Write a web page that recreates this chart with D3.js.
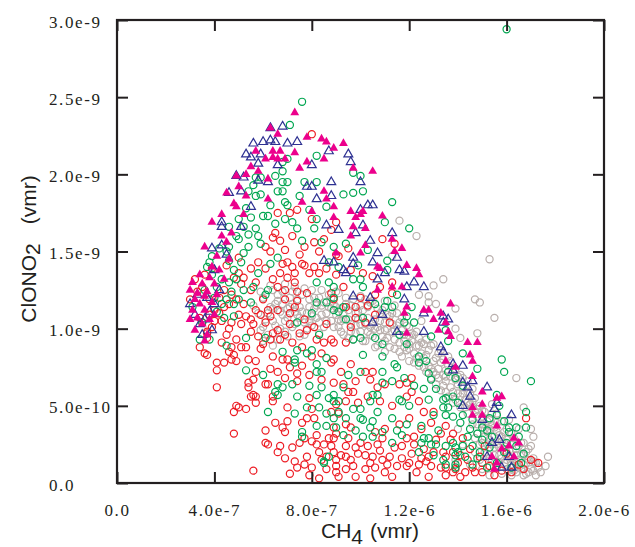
<!DOCTYPE html>
<html>
<head>
<meta charset="utf-8">
<script src="https://cdn.jsdelivr.net/npm/d3@7"></script>
<style>
  body { margin: 0; background: #fff; }
</style>
</head>
<body>
<div id="chart"></div>
<script>
// CH4 is kept in units of 1e-7 vmr, ClONO2 in units of 1e-10 vmr
var xTickValues = [0, 4, 8, 12, 16, 20];
var xTickLabels = ['0.0', '4.0e-7', '8.0e-7', '1.2e-6', '1.6e-6', '2.0e-6'];
var yTickValues = [0, 5, 10, 15, 20, 25, 30];
var yTickLabels = ['0.0', '5.0e-10', '1.0e-9', '1.5e-9', '2.0e-9', '2.5e-9', '3.0e-9'];

// grey open circles
var greyPts = [
  [5.8,11.0],[6.0,12.0],[6.1,10.6],[6.3,11.4],[6.4,12.5],[6.5,10.2],[6.6,11.8],[6.7,11.1],[6.8,12.4],[6.9,10.5],
  [7.0,11.3],[7.1,12.0],[7.2,10.1],[7.2,11.6],[7.3,12.7],[7.4,10.9],[7.5,11.4],[7.6,12.2],[7.7,10.4],[7.8,11.0],
  [7.9,11.9],[8.0,10.2],[8.0,12.5],[8.1,11.3],[8.2,10.7],[8.3,12.0],[8.4,11.5],[8.5,10.1],[8.6,11.0],[8.7,12.2],
  [8.8,10.5],[8.9,11.6],[9.0,10.9],[9.0,12.4],[6.2,9.6],[6.9,9.8],[7.5,9.5],[5.9,9.9],[6.6,9.3],
  [5.6,11.5],[5.9,12.4],[6.0,10.1],[6.2,11.0],[6.3,12.8],[6.4,10.5],[6.5,11.6],[6.6,12.2],[6.7,10.0],[6.8,11.6],
  [6.9,12.9],[7.0,10.7],[7.1,11.4],[7.2,12.4],[7.3,10.3],[7.4,11.9],[7.5,10.7],[7.6,11.1],[7.7,12.6],[7.8,10.0],
  [7.9,11.4],[8.0,10.8],[8.1,12.0],[8.2,11.5],[8.3,10.4],[8.4,12.5],[8.5,11.7],[8.6,10.5],[8.7,11.4],[8.8,12.0],
  [8.9,10.1],[9.0,11.4],[9.1,12.3],[9.2,10.5],[6.0,9.2],[6.4,8.9],[7.0,9.5],[7.7,9.6],[8.3,9.7],
  [9.1,10.1],[9.2,11.3],[9.3,9.6],[9.4,12.0],[9.5,10.6],[9.6,11.5],[9.7,9.3],[9.8,10.2],[9.9,11.1],[10.0,9.8],
  [10.0,12.1],[10.1,10.7],[10.2,9.2],[10.3,11.4],[10.4,10.1],[10.5,9.5],[10.5,11.8],[10.6,10.6],[10.7,8.9],[10.8,9.9],
  [10.9,11.2],[11.0,10.4],[11.0,8.5],[11.1,9.4],[11.2,10.8],[11.3,9.8],[11.4,8.7],[11.4,11.5],[11.5,10.2],[11.6,9.1],
  [11.7,8.2],[11.7,10.7],[11.8,9.6],[11.9,8.6],[12.0,10.1],[12.0,7.9],[12.1,9.2],[12.2,8.4],[12.3,9.8],[12.4,7.6],
  [12.4,8.9],[12.5,10.5],
  [9.2,9.8],[9.3,10.6],[9.4,11.6],[9.5,9.4],[9.6,10.3],[9.7,11.9],[9.8,9.7],[9.9,10.6],[10.0,11.5],[10.1,9.2],
  [10.2,10.3],[10.3,9.8],[10.4,11.7],[10.5,10.3],[10.6,8.8],[10.7,10.1],[10.8,11.0],[10.9,9.5],[11.0,9.9],[11.1,10.9],
  [11.2,8.8],[11.3,10.3],[11.4,9.3],[11.5,11.0],[11.6,8.5],[11.7,9.9],[11.8,8.8],[11.9,10.2],[12.0,8.7],[12.1,9.7],
  [12.2,7.8],[12.3,8.9],[12.4,9.4],[12.5,8.4],[12.6,9.0],[12.6,7.5],[12.0,9.5],[11.0,11.8],[10.2,11.9],
  [9.1,10.6],[9.3,11.0],[9.5,11.2],[9.6,9.8],[9.8,11.0],[10.0,10.3],[10.1,11.2],[10.3,10.7],[10.4,9.6],[10.6,10.0],
  [10.7,11.3],[10.8,10.5],[11.0,9.2],[11.1,10.0],[11.3,11.0],[11.4,9.9],[11.6,10.4],[11.8,9.2],[12.0,9.0],[12.2,9.6],
  [12.3,8.1],[12.5,9.1],[7.3,11.1],[7.9,10.5],[8.4,10.9],[8.8,11.3],[6.8,10.9],[6.4,11.3],
  [12.6,8.1],[12.7,9.3],[12.7,7.2],[12.8,8.6],[12.9,6.8],[13.0,7.9],[13.0,9.0],[13.1,6.4],[13.2,7.4],[13.2,8.4],
  [13.3,6.0],[13.4,7.0],[13.4,8.0],[13.5,6.6],[13.6,5.6],[13.6,7.6],[13.7,6.2],[13.8,7.2],[13.8,5.2],[13.9,6.7],
  [14.0,5.8],[14.1,4.9],[14.1,7.0],[14.2,6.2],[14.3,5.4],[14.4,4.5],[14.4,6.6],[14.5,5.8],
  [12.7,8.3],[12.8,7.6],[12.9,8.9],[13.0,7.2],[13.1,8.1],[13.2,6.8],[13.3,7.8],[13.4,6.3],[13.5,7.3],[13.6,8.2],
  [13.7,6.9],[13.8,5.9],[13.9,7.4],[14.0,6.4],[14.1,5.6],[14.2,6.8],[14.3,4.9],[14.4,5.9],[14.5,5.1],[14.6,6.1],
  [13.9,5.4],[13.5,5.9],[12.9,7.4],[13.1,7.0],[13.3,8.6],[13.5,6.9],[13.7,7.9],[14.0,6.9],[14.2,5.8],[14.4,5.2],
  [14.6,4.9],[14.6,3.8],[14.7,5.5],[14.8,4.3],[14.8,3.2],[14.9,5.0],[15.0,3.8],[15.0,2.6],[15.1,4.6],[15.2,3.3],
  [15.2,1.9],[15.3,4.1],[15.3,2.8],[15.4,5.1],[15.4,1.4],[15.5,3.6],[15.5,2.3],[15.6,4.5],[15.6,1.0],[15.7,3.1],
  [15.7,1.8],[15.8,4.0],[15.8,0.6],[15.9,2.6],[15.9,1.3],[16.0,3.5],[16.0,0.9],[16.1,2.1],[16.1,4.1],[16.2,1.6],
  [16.2,0.5],[16.3,2.9],[16.3,1.1],[16.4,2.2],[16.4,0.7],[16.5,3.5],[16.5,1.5],[16.6,0.9],[16.6,2.6],[16.7,1.8],
  [16.8,0.6],[16.8,1.3],[16.9,2.2],[17.0,0.9],[17.1,1.6],[17.2,0.5],[17.3,1.0],[14.2,2.5],[14.5,1.2],[14.0,3.5],
  [13.9,1.5],
  [14.7,4.6],[14.7,2.9],[14.8,3.8],[14.9,2.5],[15.0,4.3],[15.1,3.0],[15.1,2.0],[15.2,4.0],[15.2,2.5],[15.3,3.5],
  [15.3,1.6],[15.4,2.5],[15.4,4.5],[15.5,1.8],[15.5,3.0],[15.6,2.5],[15.6,3.9],[15.7,1.3],[15.7,2.3],[15.8,3.0],
  [15.8,1.6],[15.9,2.1],[15.9,3.3],[16.0,1.5],[16.0,2.8],[16.1,0.8],[16.1,1.7],[16.2,2.5],[16.2,3.2],[16.3,1.4],
  [16.3,0.8],[16.4,1.8],[16.5,2.4],[16.5,1.0],[16.6,1.9],[16.7,1.2],[16.7,0.5],[16.8,2.0],[16.9,1.5],[17.0,2.4],
  [17.1,0.8],[17.2,1.3],[14.9,1.5],[15.0,0.9],[14.7,2.0],[15.3,0.5],
  [14.6,5.3],[14.8,4.8],[15.0,4.7],[15.1,3.5],[15.4,3.8],[15.6,3.3],[15.8,2.7],[16.0,2.0],[16.2,1.2],[16.4,1.4],
  [11.6,17.0],[12.3,16.0],[11.3,14.7],[15.3,14.5],[13.4,13.2],[14.7,11.9],[14.9,11.7],[15.5,10.7],[16.4,6.8],[16.7,4.9],
  [17.1,1.4],[17.7,1.7],[17.4,0.7],[14.8,9.7],[13.9,10.0],[14.1,9.4],[13.0,12.8],[12.8,12.1],[12.4,12.2],[13.1,11.6],
  [12.8,11.7],[13.9,11.3],[17.0,3.5],[17.1,3.0],[17.6,1.1],[16.9,0.7],[16.7,2.6]
];

// red open circles
var redPts = [
  [3.7,9.7],[3.7,9.4],[3.6,8.4],[4.3,9.1],[4.7,8.8],[5.1,8.8],[4.8,8.3],[5.3,8.8],[4.1,7.8],[4.4,7.8],
  [4.1,7.3],[4.7,8.0],[4.9,7.9],[5.4,8.0],[5.7,7.9],[4.1,6.2],[5.4,6.5],[5.6,6.7],[5.7,7.2],[6.1,6.4],
  [6.2,6.4],[5.6,5.7],[5.7,5.6],[5.7,5.2],[6.4,5.6],[6.4,5.3],[5.0,4.9],[5.3,4.8],[4.8,4.6],[7.0,4.9],
  [6.5,3.9],[7.0,4.0],[6.8,3.6],[6.9,3.3],[6.1,3.4],[4.8,3.2],[6.1,2.6],[6.2,2.5],[6.7,2.4],[6.6,2.0],
  [5.6,0.8],[6.8,8.0],[7.0,8.0],[6.6,7.2],[7.1,7.5],[7.4,7.1],[7.4,6.6],[7.6,3.9],[7.7,2.9],[7.8,4.2],
  [7.9,5.5],[8.0,4.8],[8.1,4.2],[8.2,3.1],[8.0,2.7],[8.2,2.5],[8.5,2.5],[7.8,1.7],[7.7,1.2],[7.4,1.0],
  [8.0,1.0],[8.3,2.0],[8.6,1.7],[8.9,2.0],[8.9,3.6],[8.9,2.9],[9.0,1.5],[8.6,0.9],[9.0,0.7],[9.0,5.1],
  [8.8,4.6],[8.9,8.0],[8.2,9.3],[8.5,9.1],[8.8,9.3],[7.7,10.6],[8.1,10.1],[8.6,10.3],[7.5,9.7],[6.3,9.3],
  [6.7,9.3],[5.8,9.5],[6.6,9.9],[6.1,10.4],[5.9,10.9],[5.3,10.8],[5.1,10.3],[4.7,10.4],[4.3,10.5],[4.0,10.5],
  [4.2,11.0],[4.0,11.2],[4.6,11.6],[4.9,11.9],[6.6,11.2],[7.1,11.0],[7.3,11.4],[6.9,11.9],[4.7,12.2],[7.4,11.8],
  [8.0,22.6],[7.4,17.7],[7.1,17.5],[8.0,17.1],[8.1,15.6],[7.2,16.0],[6.5,16.2],[6.4,15.9],[6.7,15.7],[6.1,15.3],
  [6.3,15.0],[5.8,14.3],[5.5,13.9],[6.1,13.9],[6.8,14.2],[7.0,14.3],[6.7,13.6],[7.6,14.2],[7.7,14.1],[7.2,14.0],
  [7.3,13.6],[7.0,13.3],[8.1,14.0],[7.9,13.6],[8.3,13.6],[8.6,13.9],[5.0,13.6],[4.8,13.3],[5.2,13.3],[5.1,12.9],
  [5.7,13.0],[6.4,13.2],[6.6,12.7],[6.9,12.5],[7.4,12.4],[7.8,12.3],[7.3,13.0],[4.4,12.5],[3.5,12.7],[3.3,12.4],
  [6.6,17.5],[9.0,16.9],[8.8,16.4],[10.9,15.8],[11.4,15.5],[10.1,13.6],[10.5,13.4],[9.6,13.8],[9.0,14.8],[9.1,14.7],
  [9.0,13.5],[10.8,12.7],[11.3,13.0],[8.8,12.3],[8.9,11.9],[9.4,11.4],[9.8,11.4],[9.8,10.7],[10.2,10.4],[11.2,10.4],
  [10.6,12.2],[11.3,12.3],
  [8.9,9.1],[9.4,9.1],[8.8,7.8],[9.6,7.7],[10.2,7.2],[10.5,7.2],[10.4,6.7],[10.7,6.2],[11.0,6.4],[11.6,6.4],
  [11.9,6.5],[12.1,6.8],[12.1,5.9],[11.9,5.6],[8.9,6.5],[9.3,6.4],[9.5,5.9],[9.7,5.9],[9.4,5.3],[9.1,4.5],
  [9.4,3.8],[9.6,3.6],[9.0,3.2],[9.5,2.9],[10.0,2.6],[8.8,2.4],[9.4,2.4],[9.8,2.3],[10.3,2.4],[10.7,2.5],
  [10.9,2.9],[11.9,2.9],[12.2,3.0],[12.2,2.5],[10.2,1.8],[10.5,1.7],[11.2,1.7],[10.9,1.5],[11.7,1.6],[12.0,1.3],
  [12.5,1.6],[12.7,1.4],[12.8,1.7],[13.0,2.0],[13.5,1.7],[9.0,1.1],[9.4,0.9],[9.7,1.1],[9.1,0.4],[9.8,0.4],
  [10.2,0.9],[10.6,1.0],[11.0,0.7],[11.5,1.1],[11.9,1.1],[12.4,1.2],[13.3,1.0],[13.5,0.5],[12.8,0.4],[13.9,0.9],
  [14.0,1.3],[13.3,3.2],[13.5,3.7],[13.8,3.2],[13.7,2.8],[13.4,2.0],[13.8,2.0],[14.1,1.8],[14.4,1.5],[14.6,1.0],
  [13.5,1.0],[13.8,0.7],[14.3,0.7],[14.7,0.7],[15.0,0.7],[15.3,1.1],[15.0,1.3],[16.8,4.2],[17.0,1.5],[16.5,1.2],
  [16.7,0.9],[17.3,1.3],[16.2,0.7],
  [3.5,10.4],[3.7,9.8],[3.4,8.8],[3.7,8.3],[4.6,8.5],[4.9,5.0],[5.4,6.2],[5.5,5.6],
  [3.2,13.2],[3.6,13.5],[3.8,11.9],[4.2,12.0],[3.4,10.7],[3.0,11.9],[3.9,13.9],[4.5,14.1],[5.0,14.6],[5.5,12.5],
  [6.0,11.9],[5.7,11.2],[5.2,11.6],[6.2,11.2],
  [3.9,10.1],[4.5,9.6],[4.9,9.3],[5.5,9.8],[5.6,10.3],[6.0,9.0],[6.4,9.7],[6.9,9.6],[7.2,9.1],[7.6,8.8],
  [8.0,8.2],[4.4,11.4],[5.0,10.9],[5.5,10.6],[6.3,10.8],[7.1,10.3],[7.8,9.9],[3.8,10.9],[4.6,10.0],[5.9,8.7],
  [6.4,8.2],[7.6,7.6],[7.9,7.0],[8.4,6.7],[6.9,6.8],[6.3,7.4],[8.4,8.4],
  [6.9,1.6],[7.2,2.3],[7.3,1.4],[7.5,2.6],[7.1,0.6],[7.9,0.5],[8.3,0.3],[8.4,1.5],[8.7,2.9],[9.2,1.8],
  [9.6,1.5],[9.9,1.9],[10.4,1.3],[10.8,2.1],[11.1,1.2],[11.4,2.3],[11.7,2.4],[12.1,1.9],[12.3,0.7],[12.6,2.2],
  [11.3,0.4],[10.4,0.3],[9.4,1.7],[10.6,3.3],[11.0,3.5],[11.6,3.8],[12.0,4.2],[12.5,3.5],[12.9,3.9],[12.6,4.6],
  [11.3,5.0],[10.8,5.3],[10.3,5.6],[9.9,5.2],[9.2,7.2],[9.8,6.6],[12.4,5.3],[13.0,4.6],[13.1,2.8],[12.9,1.1],
  [14.2,2.9],[14.5,2.2],[14.9,1.7],[15.5,0.5],[15.8,0.8],[16.0,1.9],[15.1,2.4],[14.1,0.4],
  [7.7,15.3],[8.3,15.0],[8.5,15.8],[6.9,15.1],[7.5,14.8],[9.5,15.2],[9.3,12.7],[10.0,12.0],[10.3,11.5],[9.6,10.1],
  [10.6,10.9]
];

// green open circles
var greenPts = [
  [7.1,23.2],[7.6,24.7],[8.2,21.2],[7.0,21.0],[6.8,20.8],[6.8,20.2],[5.9,19.8],[5.7,19.8],[6.5,19.9],[6.8,19.5],
  [7.0,19.5],[8.2,19.5],[7.7,19.5],[5.6,19.3],[5.4,18.9],[5.7,18.6],[5.9,18.7],[6.6,18.9],[6.8,18.9],[6.9,18.2],
  [7.9,17.7],[8.6,17.9],[6.0,17.3],[6.2,17.3],[5.5,17.2],[5.0,17.1],[5.2,16.6],[4.6,16.6],[5.7,16.5],[5.4,16.1],
  [5.8,16.0],[6.9,17.1],[7.2,16.9],[7.4,16.5],[8.1,16.5],[8.2,17.1],[4.6,15.3],[5.4,15.3],[5.2,14.9],[4.2,15.2],
  [4.5,15.0],[3.9,14.7],[3.8,14.3],[4.8,13.8],[5.1,14.3],[8.9,15.3],[8.7,14.3],[6.2,12.5],[5.6,12.7],[4.6,13.0],
  [4.1,12.7],[8.7,13.0],[8.2,13.0],
  [9.7,20.1],[10.0,19.9],[9.3,18.7],[9.7,18.8],[10.1,18.9],[11.3,18.2],[11.0,16.9],[12.0,16.5],[10.3,15.1],[11.1,13.8],
  [9.1,14.0],[11.1,14.4],[9.7,13.2],[10.0,13.2],[10.1,12.7],[8.9,12.7],[8.9,12.0],[9.3,11.4],[11.1,11.8],[11.3,11.4],
  [11.0,11.4],[11.5,12.2],[11.9,10.8],[11.8,10.4],[10.1,10.7],[9.4,10.6],[9.1,11.1],[13.5,9.9],[11.6,9.6],
  [3.1,11.4],[3.5,10.4],[4.8,10.8],[5.3,9.4],[6.1,9.4],[5.5,11.7],[6.1,12.2],[6.8,8.5],[7.4,10.4],[7.4,8.6],
  [7.3,8.0],[7.3,7.8],[7.8,8.4],[8.0,8.6],[8.3,9.6],[8.0,11.0],[8.2,11.7],[8.6,11.7],[8.9,11.2],[8.6,8.1],
  [8.2,7.7],[8.4,7.2],[8.2,7.2],[6.6,6.4],[6.8,6.2],[7.2,6.4],[6.5,5.9],[6.6,5.7],[7.4,5.6],[7.8,4.9],
  [7.3,4.5],[8.2,5.7],[8.4,6.2],[8.7,5.5],[8.9,5.3],[8.3,4.9],[8.9,4.2],[8.2,3.7],[8.6,3.7],[7.6,3.3],
  [7.6,3.0],[8.5,1.3],
  [9.7,9.3],[10.0,9.4],[10.6,9.4],[10.9,9.0],[10.1,8.3],[11.4,7.7],[11.5,7.5],[11.9,9.0],[12.4,8.2],[12.4,7.8],
  [12.7,7.9],[12.8,7.1],[12.9,6.7],[11.8,6.8],[10.9,7.2],[10.0,7.2],[10.9,6.5],[11.6,5.4],[11.7,5.3],[12.6,6.1],
  [13.1,6.1],[13.5,5.5],[13.4,4.9],[14.2,6.3],[13.6,7.2],[13.9,6.8],[8.9,5.7],[9.3,6.2],[9.1,5.3],[9.1,4.6],
  [9.7,4.8],[10.0,4.8],[10.1,4.1],[10.7,4.6],[10.5,4.0],[11.3,4.2],[10.4,3.6],[11.5,3.4],[11.7,3.1],[10.1,3.0],
  [12.6,2.9],[12.8,2.9],[9.0,3.6],[9.3,3.1],[12.9,2.5],[13.1,2.5],[13.9,2.3],[13.9,1.8],[14.2,2.4],[13.4,1.5],
  [13.9,1.2],[11.3,2.6],[12.4,2.0],
  [13.6,9.2],[14.2,8.4],[14.8,7.4],[15.8,8.0],[15.9,7.2],[17.0,6.6],[16.8,4.6],[13.4,5.4],[13.8,5.6],[13.6,4.9],
  [14.0,5.2],[13.5,4.4],[13.8,4.3],[14.1,3.9],[14.2,4.4],[14.6,4.1],[15.3,4.2],[15.6,4.4],[15.6,5.7],[15.7,5.0],
  [16.1,3.6],[16.4,3.6],[16.8,3.6],[16.1,3.3],[15.2,3.4],[14.8,3.2],[14.4,3.0],[15.0,2.8],[15.4,3.0],[15.3,2.3],
  [14.6,2.4],[14.9,2.0],[13.8,2.6],[13.5,2.4],[14.3,1.7],[14.8,1.6],[13.5,1.2],[15.9,2.0],[16.4,2.4],[16.7,1.9],
  [16.2,1.0],[13.9,1.0],[15.6,1.3],
  [16.0,29.4],[10.5,5.7],[10.7,5.7],[10.0,4.2],[8.5,1.4],[8.7,1.7],[10.5,3.0],
  [3.6,12.5],[4.0,12.0],[4.3,11.6],[4.5,11.9],[4.1,11.1],[4.4,10.7],[4.8,11.6],[3.8,9.3],[3.4,9.3],[5.0,11.9],
  [5.2,12.5],[4.7,12.4],[4.3,13.2],[4.9,13.2],[3.9,13.5],
  [5.0,15.8],[5.9,15.5],[6.5,16.8],[7.0,18.0],[7.5,18.6],[6.3,18.0],[5.3,17.8],[4.9,16.0],[6.6,14.6],[7.6,15.7],
  [8.4,15.6],[9.4,15.5],[9.9,14.1],[10.6,11.6],[12.1,11.4],[12.9,9.5],[12.2,10.4],[10.9,8.2],[11.3,6.6],[12.2,6.3],
  [12.0,5.0],[12.8,5.4],[13.0,4.4],[12.5,3.7],[11.9,3.8],[10.9,3.3],[9.8,3.4],[9.4,4.2],[8.6,4.5],[7.9,6.3],
  [6.2,4.6],[6.0,7.0],[5.3,7.3],[4.5,8.9],[9.5,7.0],[10.4,5.3],[14.5,3.5],[14.0,2.0],[15.0,3.6],[15.9,4.0],
  [16.5,3.0],[16.0,2.6],[14.6,1.2],[15.2,1.0],[16.6,1.3],[13.2,3.4],[13.0,1.8],[12.5,2.6],[4.6,14.4],[5.8,13.6],
  [6.3,14.2],[3.7,14.0]
];

// navy open triangles
var blueTri = [
  [6.8,23.1],[5.6,22.0],[6.0,22.1],[6.3,22.2],[6.5,22.1],[7.0,22.0],[7.4,22.1],[5.3,21.3],[5.5,21.1],[5.9,21.3],
  [5.8,20.7],[6.6,20.6],[8.0,20.6],[4.9,19.9],[5.2,19.8],[5.8,19.6],[6.2,19.5],[4.6,18.8],[5.1,18.9],[5.5,17.9],
  [7.8,19.2],[8.2,18.4],[8.8,19.5],[8.8,18.6],[8.0,19.2],[4.3,16.9],[4.3,16.6],[5.1,16.6],[8.6,16.7],[8.9,14.3],
  [4.3,15.4],[4.5,14.8],[3.9,15.2],
  [9.5,21.3],[9.6,20.8],[8.7,21.5],[10.0,19.5],[10.3,18.0],[10.5,18.0],[10.0,17.7],[9.1,16.4],[9.8,16.2],[10.1,16.7],
  [11.3,16.2],[10.4,15.7],[10.7,14.9],[11.5,14.6],[10.5,14.3],[11.6,13.8],[8.5,14.4],[9.7,14.6],[9.4,13.6],
  [9.7,14.2],[9.3,13.8],[11.0,13.6],[11.8,13.7],[10.7,13.2],[12.2,13.0],[12.6,12.7],[11.9,12.7],[9.7,12.1],[10.4,12.0],
  [11.8,11.9],[10.9,10.9],[10.5,10.4],[12.6,11.0],[13.4,10.8],[13.6,10.6],[11.5,9.8],[12.6,9.8],
  [13.4,10.4],[13.3,8.8],[13.4,8.5],[13.8,7.7],[14.2,7.6],[13.8,7.3],[14.2,6.5],[14.6,6.6],[14.4,6.2],[15.2,6.2],
  [14.5,5.6],[15.6,5.2],[14.2,5.0],[15.5,4.8],[15.0,4.1],[16.2,4.4],[15.4,2.6],[15.7,2.8],[16.1,1.7],[15.2,1.7],
  [16.2,1.0],[15.8,1.0],
  [3.2,10.9],[3.4,10.3],[3.6,10.6],[3.8,11.1],[3.3,12.2],[3.7,12.0],[3.9,9.9],[3.5,9.6],[4.0,11.6],[4.2,12.5],
  [3.0,11.6],[4.0,13.8],[6.3,23.0]
];

// magenta filled triangles
var magentaTri = [
  [7.3,24.0],[6.3,23.0],[6.6,22.6],[7.8,22.4],[8.4,22.3],[8.6,22.1],[8.9,21.7],[6.4,21.5],[6.7,21.5],[5.7,21.5],
  [7.3,21.4],[6.1,21.0],[6.4,21.1],[6.6,21.0],[6.9,21.0],[8.5,21.0],[7.8,20.8],[7.5,20.4],[5.5,20.5],[5.8,20.2],
  [5.3,20.0],[4.9,19.9],[6.2,19.7],[5.0,19.2],[4.5,18.8],[5.3,18.6],[6.2,18.4],[8.5,18.9],[8.6,18.4],[7.6,18.2],
  [8.0,17.6],[8.9,17.9],[4.8,18.1],[4.9,17.9],[5.2,17.4],[3.9,16.9],[4.3,17.4],[4.3,16.0],[4.7,16.2],[4.5,15.6],
  [8.9,17.2],[3.6,15.3],[4.1,14.7],[3.9,14.0],[4.2,13.8],[3.1,13.0],[3.5,12.9],[3.7,12.4],[3.3,12.3],[3.6,12.1],
  [9.0,14.9],
  [9.3,22.0],[10.5,20.2],[9.7,20.4],[9.6,17.6],[9.8,17.2],[10.0,17.4],[10.9,17.3],[10.2,16.5],[9.6,16.0],[11.4,15.0],
  [11.7,15.2],[10.2,15.4],[10.0,14.9],[10.7,14.0],[11.9,14.1],[12.3,13.9],[12.4,13.5],
  [10.1,17.6],[9.7,16.6],[11.3,15.8],[10.8,13.9],[11.3,12.7],[11.7,12.7],[10.7,12.5],[11.9,11.4],[11.8,11.0],[12.6,11.2],
  [12.8,11.2],[13.3,11.0],[13.7,11.6],[13.0,10.6],[13.5,10.4],[11.9,9.7],[13.2,9.9],[13.7,9.5],
  [13.6,9.8],[14.4,9.1],[14.8,9.1],[14.5,8.3],[14.6,7.9],[13.5,7.9],[13.9,7.5],[14.6,6.9],[15.0,5.9],[15.6,5.5],
  [15.8,5.6],[15.0,5.1],[14.6,4.9],[14.6,4.4],[15.0,4.4],[15.6,3.7],[16.3,2.9],[16.5,2.6],[16.1,2.4],[15.8,2.2],
  [15.4,1.7],[16.3,1.7],[15.6,1.3],[15.5,0.9],
  [3.2,11.9],[3.0,12.5],[3.4,11.6],[3.1,11.2],[3.6,11.2],[3.3,10.7],[3.8,10.6],[3.5,10.3],[3.2,9.9],[3.7,9.6],
  [3.9,11.7],[4.0,12.9],[3.4,13.5],[3.8,13.3],[4.1,12.2],[3.0,10.6],[3.6,9.2],[4.0,10.9],[4.4,13.2],[4.6,14.5]
];


function scatterChart() {

    // All options that should be accessible to caller
    var width = 635;
    var height = 547;
    var margin = {top: 20, right: 31, bottom: 64, left: 117};
    var tickLen = 11;
    var series = [];

    function chart(selection) {
        selection.each(function () {

            var innerW = width - margin.left - margin.right;
            var innerH = height - margin.top - margin.bottom;

            var x = d3.scaleLinear().domain([0, 20]).range([0, innerW]);
            var y = d3.scaleLinear().domain([0, 30]).range([innerH, 0]);

            var svg = d3.select(this).append('svg')
                .attr('width', width)
                .attr('height', height);

            var g = svg.append('g')
                .attr('transform', 'translate(' + margin.left + ',' + margin.top + ')');

            // BEGIN points
            var circle = d3.symbol().type(d3.symbolCircle).size(40);
            var tri = d3.symbol().type(d3.symbolTriangle).size(34);

            series.forEach(function (s) {
                g.append('g')
                    .selectAll('path')
                    .data(s.values)
                    .enter()
                    .append('path')
                    .attr('transform', function (d) { return 'translate(' + x(d[0]) + ',' + y(d[1]) + ')'; })
                    .attr('d', s.shape === 'tri' ? tri : circle)
                    .attr('fill', s.filled ? s.color : 'none')
                    .attr('stroke', s.filled ? 'none' : s.color)
                    .attr('stroke-width', 1.2);
            });
            // END points

            // BEGIN axes (inward ticks on all four sides)
            var serif = "'Liberation Serif', 'DejaVu Serif', serif";

            var xAxis = g.append('g')
                .attr('transform', 'translate(0,' + innerH + ')')
                .call(d3.axisBottom(x).tickValues(xTickValues).tickSize(-tickLen).tickPadding(21)
                    .tickFormat(function (d, i) { return xTickLabels[i]; }));

            g.append('g')
                .call(d3.axisTop(x).tickValues(xTickValues).tickSize(-tickLen).tickFormat(''));

            var yAxis = g.append('g')
                .call(d3.axisLeft(y).tickValues(yTickValues).tickSize(-tickLen)
                    .tickFormat(function (d, i) { return yTickLabels[i]; }));

            g.append('g')
                .attr('transform', 'translate(' + innerW + ',0)')
                .call(d3.axisRight(y).tickValues(yTickValues).tickSize(-tickLen).tickFormat(''));

            g.selectAll('.domain').remove();
            g.selectAll('.tick line').attr('stroke', '#231f20').attr('stroke-width', 2);

            xAxis.selectAll('text')
                .attr('fill', '#231f20')
                .attr('font-family', serif)
                .style('font-size', '17px')
                .style('letter-spacing', '1.6px');

            // the y labels are flush left in the original
            yAxis.selectAll('text')
                .attr('x', 49 - margin.left)
                .attr('dy', '0.42em')
                .attr('text-anchor', 'start')
                .attr('fill', '#231f20')
                .attr('font-family', serif)
                .style('font-size', '17px')
                .style('letter-spacing', '1.6px');

            g.append('rect')
                .attr('width', innerW)
                .attr('height', innerH)
                .attr('fill', 'none')
                .attr('stroke', '#231f20')
                .attr('stroke-width', 2.2);
            // END axes

            // BEGIN titles
            var sans = "'Liberation Sans', Arial, sans-serif";

            var xt = svg.append('text')
                .attr('x', 370)
                .attr('y', 538)
                .attr('text-anchor', 'middle')
                .attr('fill', '#231f20')
                .style('font-family', sans)
                .style('font-size', '21px');
            xt.append('tspan').text('CH');
            xt.append('tspan').attr('dy', 6).text('4');
            xt.append('tspan').attr('dy', -6).attr('dx', 7).text('(vmr)');

            var yt = svg.append('text')
                .attr('transform', 'translate(36,249) rotate(-90)')
                .attr('text-anchor', 'middle')
                .attr('fill', '#231f20')
                .style('font-family', sans)
                .style('font-size', '21px');
            yt.append('tspan').text('ClONO');
            yt.append('tspan').attr('dy', 4).text('2');
            yt.append('tspan').attr('dy', -4).attr('dx', 19).text('(vmr)');
            // END titles
        });
    }

    chart.width = function (value) {
        if (!arguments.length) return width;
        width = value;
        return chart;
    };

    chart.height = function (value) {
        if (!arguments.length) return height;
        height = value;
        return chart;
    };

    chart.series = function (value) {
        if (!arguments.length) return series;
        series = value;
        return chart;
    };

    return chart;
}

var chart = scatterChart().series([
    {values: greyPts, color: '#b9afac', shape: 'circle', filled: false},
    {values: redPts, color: '#ed1c24', shape: 'circle', filled: false},
    {values: greenPts, color: '#00a651', shape: 'circle', filled: false},
    {values: blueTri, color: '#2e3192', shape: 'tri', filled: false},
    {values: magentaTri, color: '#ec008c', shape: 'tri', filled: true}
]);

d3.select('#chart').call(chart);
</script>
</body>
</html>
